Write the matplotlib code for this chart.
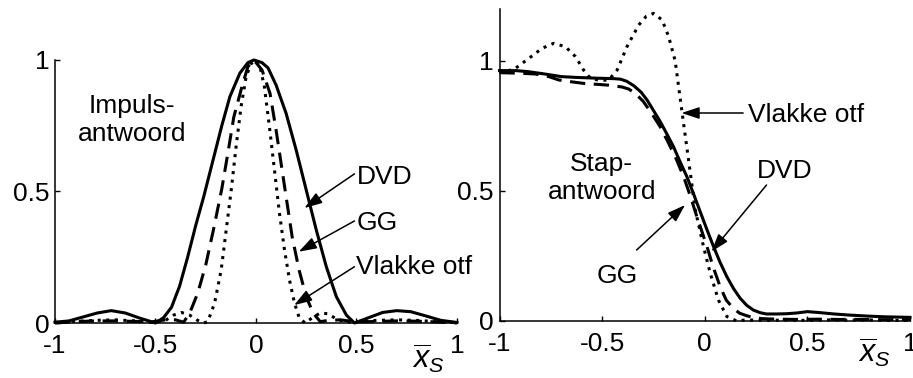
import matplotlib
matplotlib.use('Agg')
import matplotlib.pyplot as plt


plt.rcParams['font.family'] = ['Liberation Sans', 'DejaVu Sans']
plt.rcParams['font.size'] = 19
plt.rcParams['axes.unicode_minus'] = False
plt.rcParams['mathtext.fontset'] = 'custom'
plt.rcParams['mathtext.rm'] = 'Liberation Sans'
plt.rcParams['mathtext.it'] = 'Liberation Sans:italic'


# Impulse responses (left panel)
imp_x_dvd = [-1.0, -0.93, -0.86, -0.79, -0.72, -0.65, -0.58, -0.5, -0.46, -0.42,
             -0.38, -0.34, -0.30, -0.26, -0.22, -0.17, -0.13, -0.08, -0.04, -0.01,
             0.03, 0.06, 0.10, 0.15, 0.20, 0.25, 0.30, 0.35, 0.40, 0.45,
             0.49, 0.56, 0.63, 0.70, 0.77, 0.84, 0.92, 1.0]
imp_dvd = [0.003, 0.008, 0.023, 0.038, 0.047, 0.038, 0.019, 0.0, 0.02, 0.06,
           0.14, 0.25, 0.37, 0.48, 0.60, 0.75, 0.86, 0.95, 0.99, 1.0,
           0.99, 0.97, 0.905, 0.797, 0.658, 0.506, 0.354, 0.214, 0.10, 0.03,
           0.0, 0.02, 0.04, 0.047, 0.043, 0.028, 0.01, 0.002]

imp_x_gg = [-1.0, -0.9, -0.8, -0.7, -0.6, -0.52, -0.45, -0.40, -0.36, -0.33,
            -0.29, -0.25, -0.21, -0.17, -0.14, -0.11, -0.07, -0.04, -0.01, 0.03,
            0.07, 0.10, 0.125, 0.15, 0.18, 0.215, 0.25, 0.285, 0.32, 0.36,
            0.42, 0.5, 0.6, 0.7, 0.8, 0.9, 1.0]
imp_gg = [0.0, 0.005, 0.008, 0.008, 0.006, 0.004, 0.012, 0.012, 0.003, 0.037,
          0.113, 0.22, 0.36, 0.51, 0.645, 0.784, 0.898, 0.975, 1.0, 0.962,
          0.873, 0.734, 0.607, 0.48, 0.328, 0.20, 0.10, 0.037, 0.005, 0.01,
          0.012, 0.004, 0.006, 0.008, 0.007, 0.004, 0.0]

imp_x_flat = [-1.0, -0.9, -0.8, -0.7, -0.6, -0.5, -0.45, -0.41, -0.37, -0.33,
              -0.29, -0.26, -0.24, -0.206, -0.173, -0.148, -0.123, -0.099, -0.074, -0.049,
              -0.025, -0.003, 0.02, 0.042, 0.067, 0.092, 0.117, 0.142, 0.167, 0.192,
              0.216, 0.245, 0.28, 0.32, 0.36, 0.40, 0.45, 0.5, 0.6, 0.7,
              0.8, 0.9, 1.0]
imp_flat = [0.002, 0.006, 0.01, 0.012, 0.008, 0.002, 0.01, 0.03, 0.04, 0.03,
            0.01, 0.0, 0.005, 0.075, 0.202, 0.354, 0.506, 0.67, 0.823, 0.937,
            0.985, 1.0, 0.975, 0.898, 0.746, 0.582, 0.417, 0.278, 0.163, 0.075,
            0.018, 0.0, 0.02, 0.038, 0.035, 0.015, 0.003, 0.004, 0.01, 0.012,
            0.01, 0.005, 0.002]

# Step responses (right panel)
stp_x_dvd = [-1.0, -0.92, -0.86, -0.78, -0.70, -0.63, -0.53, -0.44, -0.41, -0.38,
             -0.346, -0.31, -0.281, -0.25, -0.217, -0.185, -0.152, -0.12, -0.087, -0.055,
             -0.022, 0.01, 0.043, 0.075, 0.108, 0.14, 0.173, 0.205, 0.237, 0.27,
             0.30, 0.35, 0.40, 0.45, 0.50, 0.55, 0.63, 0.70, 0.79, 0.88, 1.0]
stp_dvd = [0.963, 0.963, 0.959, 0.95, 0.94, 0.937, 0.934, 0.932, 0.93, 0.922,
           0.905, 0.88, 0.85, 0.81, 0.767, 0.72, 0.67, 0.612, 0.555, 0.49,
           0.42, 0.353, 0.286, 0.225, 0.17, 0.125, 0.087, 0.06, 0.042, 0.032,
           0.027, 0.027, 0.028, 0.031, 0.036, 0.033, 0.027, 0.023, 0.019, 0.016, 0.014]

stp_x_gg = [-1.0, -0.90, -0.825, -0.76, -0.711, -0.65, -0.581, -0.52, -0.468, -0.403,
            -0.37, -0.338, -0.30, -0.26, -0.217, -0.18, -0.14, -0.103, -0.07, -0.038,
            -0.012, 0.011, 0.04, 0.076, 0.105, 0.14, 0.17, 0.205, 0.24, 0.28,
            0.35, 0.45, 0.55, 0.65, 0.75, 0.85, 1.0]
stp_gg = [0.955, 0.953, 0.95, 0.94, 0.927, 0.92, 0.913, 0.91, 0.907, 0.9,
          0.892, 0.875, 0.845, 0.80, 0.747, 0.69, 0.625, 0.555, 0.48, 0.40,
          0.34, 0.286, 0.21, 0.13, 0.08, 0.048, 0.03, 0.02, 0.013, 0.009,
          0.007, 0.006, 0.007, 0.006, 0.006, 0.005, 0.005]

stp_x_flat = [-1.0, -0.96, -0.922, -0.857, -0.792, -0.736, -0.679, -0.63, -0.59, -0.557,
              -0.51, -0.468, -0.427, -0.379, -0.322, -0.285, -0.249, -0.208, -0.176, -0.144,
              -0.111, -0.079, -0.046, -0.006, 0.027, 0.067, 0.108, 0.156, 0.2, 0.3,
              0.4, 0.5, 0.6, 0.7, 0.8, 0.9, 1.0]
stp_flat = [0.96, 0.962, 0.972, 1.01, 1.049, 1.068, 1.055, 1.017, 0.965, 0.933,
            0.925, 0.927, 0.965, 1.055, 1.138, 1.172, 1.183, 1.158, 1.094, 1.0,
            0.805, 0.62, 0.427, 0.286, 0.183, 0.08, 0.017, 0.0, 0.004, 0.002,
            0.004, 0.002, 0.004, 0.003, 0.004, 0.002, 0.003]

x_ticks = [-1, -0.5, 0, 0.5, 1]
x_ticklabels = ['-1', '-0.5', '0', '0.5', '1']
y_ticks = [0, 0.5, 1]
y_ticklabels = ['0', '0.5', '1']

LW = 2.2
solid = dict(color='k', lw=LW, linestyle='-', clip_on=False)
dashed = dict(color='k', lw=LW, linestyle=(0, (5, 2.8)), clip_on=False)
dotted = dict(color='k', lw=LW, linestyle=(0, (1, 1.8)), clip_on=False)
arrow = dict(arrowstyle='-|>,head_length=0.6,head_width=0.2', mutation_scale=18,
             color='k', lw=1.1, shrinkA=0, shrinkB=0)


def style_axes(ax, ymax):
    ax.set_xlim(-1, 1)
    ax.set_ylim(0, ymax)
    ax.set_xticks(x_ticks)
    ax.set_xticklabels(x_ticklabels)
    ax.set_yticks(y_ticks)
    ax.set_yticklabels(y_ticklabels)
    for side in ['top', 'right']:
        ax.spines[side].set_visible(False)
    for side in ['left', 'bottom']:
        ax.spines[side].set_linewidth(1.1)
    ax.tick_params(direction='in', length=3.5, width=1.0, labelsize=19)
    ax.tick_params(axis='x', pad=8)
    ax.tick_params(axis='y', pad=4)
    ax.patch.set_visible(False)


fig = plt.figure(figsize=(9.13, 3.78), dpi=100)
ax1 = fig.add_axes([0.0602, 0.1455, 0.4403, 0.6958])
ax2 = fig.add_axes([0.5471, 0.1508, 0.4496, 0.8254])

# left: impulse responses
ax1.plot(imp_x_dvd, imp_dvd, **solid)
ax1.plot(imp_x_gg, imp_gg, **dashed)
ax1.plot(imp_x_flat, imp_flat, **dotted)
style_axes(ax1, 1.0)

ax1.text(-0.615, 0.87, 'Impuls-\nantwoord', ha='center', va='top', linespacing=1.2)
ax1.text(0.50, 0.529, 'DVD', ha='left', va='baseline')
ax1.text(0.50, 0.354, 'GG', ha='left', va='baseline')
ax1.text(0.50, 0.185, 'Vlakke otf', ha='left', va='baseline', clip_on=False)
ax1.annotate('', xy=(0.241, 0.437), xytext=(0.49, 0.567), arrowprops=arrow)
ax1.annotate('', xy=(0.213, 0.271), xytext=(0.49, 0.388), arrowprops=arrow)
ax1.annotate('', xy=(0.19, 0.068), xytext=(0.49, 0.214), arrowprops=arrow)
ax1.text(0.774, -0.171, r'$\overline{x}_S$', ha='left', va='baseline', fontsize=22)

# right: step responses
ax2.plot(stp_x_dvd, stp_dvd, **solid)
ax2.plot(stp_x_gg, stp_gg, **dashed)
ax2.plot(stp_x_flat, stp_flat, **dotted)
style_axes(ax2, 1.2)

ax2.text(-0.502, 0.65, 'Stap-\nantwoord', ha='center', va='top', linespacing=1.2)
ax2.text(0.212, 0.767, 'Vlakke otf', ha='left', va='baseline')
ax2.text(0.252, 0.549, 'DVD', ha='left', va='baseline')
ax2.text(-0.527, 0.145, 'GG', ha='left', va='baseline')
ax2.annotate('', xy=(-0.113, 0.80), xytext=(0.187, 0.80), arrowprops=arrow)
ax2.annotate('', xy=(0.033, 0.267), xytext=(0.301, 0.523), arrowprops=arrow)
ax2.annotate('', xy=(-0.096, 0.446), xytext=(-0.332, 0.273), arrowprops=arrow)
ax2.text(0.747, -0.157, r'$\overline{x}_S$', ha='left', va='baseline', fontsize=22)

fig.savefig('out.png', dpi=100)
